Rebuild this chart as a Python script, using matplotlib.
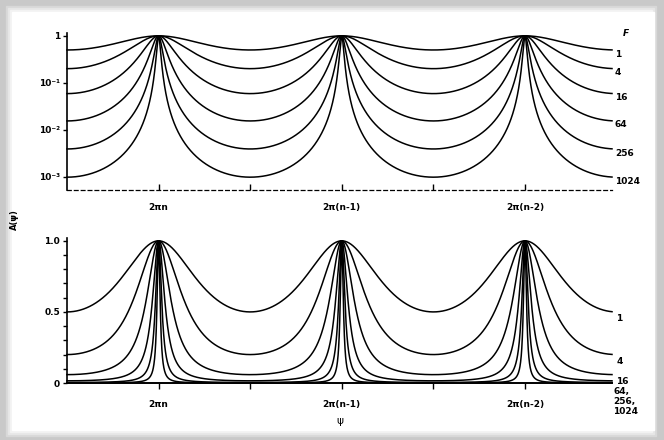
import numpy as np
import matplotlib
matplotlib.use("Agg")
import matplotlib.pyplot as plt
from matplotlib.patches import Rectangle

# finesse coefficients of the plotted curves
F_values = [1, 4, 16, 64, 256, 1024]
F_labels = ["1", "4", "16", "64", "256", "1024"]
peak_labels = ["2\u03c0n", "2\u03c0(n-1)", "2\u03c0(n-2)"]
log_tick_vals = [1e-3, 1e-2, 1e-1, 1]
log_tick_labels = ["10\u207b\u00b3", "10\u207b\u00b2", "10\u207b\u00b9", "1"]
lin_tick_vals = [0, 0.5, 1.0]
lin_tick_labels = ["0", "0.5", "1.0"]

# phase axis: one half-period before the first order, almost one after the last
x_lo, x_hi = -np.pi, 4.95 * np.pi
psi = np.linspace(x_lo, x_hi, 6000)
peaks = np.array([0, 2 * np.pi, 4 * np.pi])
mids = np.array([np.pi, 3 * np.pi])


def airy(F, x):
    return 1.0 / (1.0 + F * np.sin(x / 2) ** 2)


plt.rcParams["font.family"] = "DejaVu Sans"
plt.rcParams["font.weight"] = "bold"
fs = 6.5

fig = plt.figure(figsize=(6.64, 4.40), dpi=100, facecolor="#c9c9c9")
# white page inside a grey frame
for i, c in enumerate(["#d8d8d8", "#e6e6e6", "#f2f2f2"]):
    d = i * 2
    fig.patches.append(Rectangle(((6 + d) / 664, (4 + d) / 440),
                                 (650 - 2 * d) / 664, (430 - 2 * d) / 440,
                                 transform=fig.transFigure, color=c, zorder=-3))
fig.patches.append(Rectangle((12 / 664, 10 / 440), 642 / 664, 418 / 440,
                             transform=fig.transFigure, color="white", zorder=-2))

# ---- upper panel: logarithmic ----
ax1 = fig.add_axes([67 / 664, 1 - 190 / 440, 545 / 664, 157 / 440])
ax1.patch.set_alpha(0)
for F in F_values:
    ax1.plot(psi, airy(F, psi), color="black", lw=1.1, clip_on=False)
ax1.set_yscale("log")
ax1.set_ylim(5.2e-4, 1.15)
ax1.set_xlim(x_lo, x_hi)
for s in ["top", "right"]:
    ax1.spines[s].set_visible(False)
ax1.spines["bottom"].set_linestyle((0, (3, 2.5)))
ax1.spines["bottom"].set_linewidth(0.9)
ax1.spines["left"].set_linewidth(1.2)
ax1.set_yticks(log_tick_vals)
ax1.set_yticklabels(log_tick_labels, fontsize=fs)
ax1.minorticks_off()
ax1.tick_params(axis="y", direction="out", length=3, width=1, pad=2)
ax1.set_xticks(np.concatenate([peaks, mids]))
ax1.set_xticklabels(peak_labels + ["", ""], fontsize=fs)
ax1.tick_params(axis="x", direction="in", length=4, width=1, pad=9)
for F, lab in zip(F_values, F_labels):
    ax1.annotate(lab, (x_hi, airy(F, x_hi)), xytext=(2, -3),
                 textcoords="offset points", fontsize=fs, va="center",
                 ha="left", annotation_clip=False)
ax1.annotate("F", (x_hi, 1.0), xytext=(8, 2), textcoords="offset points",
             fontsize=fs, va="center", ha="left", style="italic",
             annotation_clip=False)

# ---- lower panel: linear ----
ax2 = fig.add_axes([67 / 664, 1 - 383 / 440, 545 / 664, 145 / 440])
ax2.patch.set_alpha(0)
for F in F_values:
    ax2.plot(psi, airy(F, psi), color="black", lw=1.1, clip_on=False)
ax2.set_ylim(0, 1.02)
ax2.set_xlim(x_lo, x_hi)
for s in ["top", "right"]:
    ax2.spines[s].set_visible(False)
ax2.spines["bottom"].set_linewidth(1.4)
ax2.spines["left"].set_linewidth(1.2)
ax2.set_yticks(lin_tick_vals)
ax2.set_yticklabels(lin_tick_labels, fontsize=fs)
ax2.set_yticks(np.arange(0.1, 1.0, 0.1), minor=True)
ax2.tick_params(axis="y", which="both", direction="out", length=3, width=1, pad=2)
ax2.set_xticks(np.concatenate([peaks, mids]))
ax2.set_xticklabels(peak_labels + ["", ""], fontsize=fs)
ax2.tick_params(axis="x", direction="out", length=4, width=1, pad=8)
for F, lab in zip(F_values[:3], F_labels[:3]):
    ax2.annotate(lab, (x_hi, airy(F, x_hi)), xytext=(3, -5),
                 textcoords="offset points", fontsize=fs, va="center",
                 ha="left", annotation_clip=False)
ax2.annotate("64,\n256,\n1024", (x_hi, 0), xytext=(1, -3),
             textcoords="offset points", fontsize=fs, va="top", ha="left",
             linespacing=1.1, annotation_clip=False)
ax2.set_xlabel("\u03c8", fontsize=fs + 1, labelpad=5)

fig.text(14 / 664, 1 - 220 / 440, "A(\u03c8)", rotation=90, fontsize=fs - 0.5,
         ha="center", va="center")

fig.savefig("out.png", dpi=100, facecolor=fig.get_facecolor())
